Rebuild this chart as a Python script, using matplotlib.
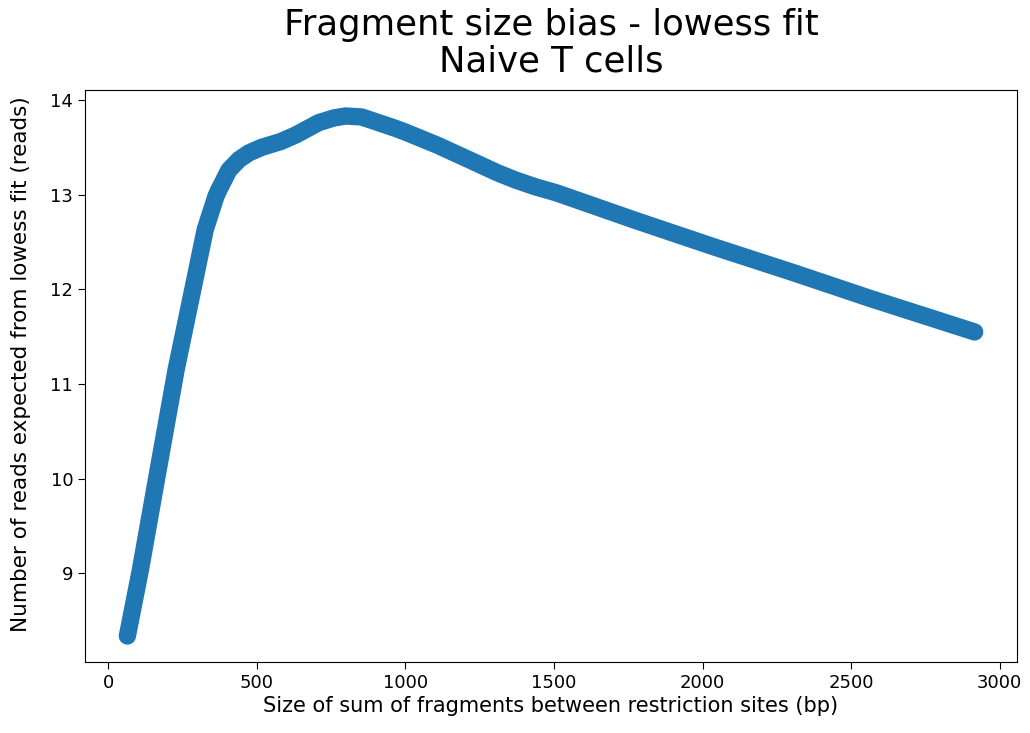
import matplotlib
matplotlib.use('Agg')
import matplotlib.pyplot as plt

# lowess fit: fragment size (bp) vs expected reads
frag_size = [64, 108, 168, 228, 291, 326, 362, 372, 406, 440, 473, 517, 580,
             631, 708, 760, 799, 852, 900, 966, 1000, 1109, 1241, 1310, 1374,
             1440, 1507, 1772, 2037, 2302, 2568, 2916]
exp_reads = [8.34, 9.04, 10.10, 11.15, 12.10, 12.63, 12.98, 13.05, 13.26, 13.37,
             13.44, 13.50, 13.56, 13.63, 13.76, 13.81, 13.83, 13.82, 13.77, 13.70,
             13.66, 13.52, 13.33, 13.23, 13.15, 13.08, 13.02, 12.73, 12.45, 12.18,
             11.90, 11.55]

fig = plt.figure(figsize=(10.3, 7.33), dpi=100)
ax = fig.add_axes([85/1030, 71/733, 932/1030, 572/733])

ax.plot(frag_size, exp_reads, color='#1f77b4', linewidth=12.5,
        solid_capstyle='round', solid_joinstyle='round')
ax.margins(0.05)

ax.set_title('Fragment size bias - lowess fit\nNaive T cells', fontsize=25.5,
             linespacing=1.1, pad=13)
ax.set_xlabel('Size of sum of fragments between restriction sites (bp)',
              fontsize=15, labelpad=3)
ax.set_ylabel('Number of reads expected from lowess fit (reads)', fontsize=15.5)
ax.yaxis.set_label_coords(-0.058, 0.52)
ax.tick_params(labelsize=13, length=5)
ax.set_xticks([0, 500, 1000, 1500, 2000, 2500, 3000])
ax.set_yticks([9, 10, 11, 12, 13, 14])

fig.savefig('out.png', dpi=100)
